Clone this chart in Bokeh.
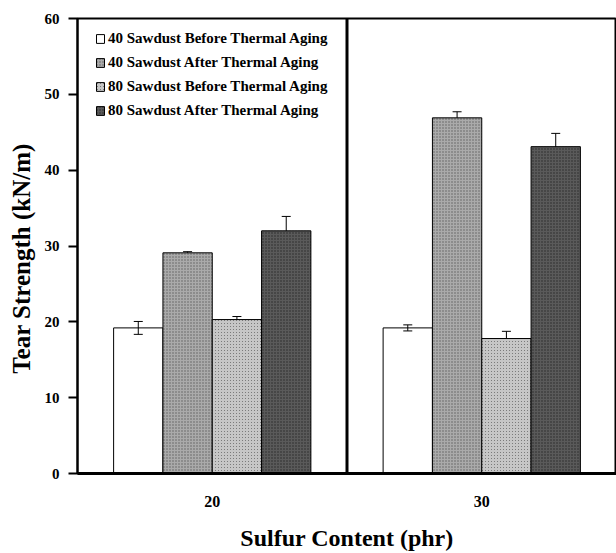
from bokeh.plotting import figure
from bokeh.models import (ColumnDataSource, Whisker, TeeHead, Span, Legend, LegendItem,
                          FixedTicker, Range1d)
from bokeh.embed import file_html
from bokeh.resources import INLINE

# ---- data ----
sulfur = [20, 30]
series_names = ["40 Sawdust Before Thermal Aging", "40 Sawdust After Thermal Aging",
                "80 Sawdust Before Thermal Aging", "80 Sawdust After Thermal Aging"]
s40_before = [19.2, 19.2]
s40_before_err = [0.85, 0.4]
s40_after = [29.1, 46.9]
s40_after_err = [0.15, 0.8]
s80_before = [20.3, 17.8]
s80_before_err = [0.4, 0.95]
s80_after = [32.0, 43.1]
s80_after_err = [1.9, 1.75]
y_ticks = [0, 10, 20, 30, 40, 50, 60]

values = [s40_before, s40_after, s80_before, s80_after]
errors = [s40_before_err, s40_after_err, s80_before_err, s80_after_err]

FONT = "Liberation Serif"

p = figure(width=616, height=553, output_backend="svg", toolbar_location=None,
           x_range=Range1d(15, 35), y_range=Range1d(0, 60),
           min_border_left=77, min_border_right=0, min_border_top=18, min_border_bottom=78)
p.background_fill_color = "white"
p.border_fill_color = "white"
p.grid.visible = False
p.outline_line_color = "black"
p.outline_line_width = 2

bar_w = 1.83
styles = [
    dict(fill_color="white", fill_alpha=0.0, hatch_pattern=None),
    dict(fill_color="#aaaaaa", hatch_pattern="dot", hatch_color="#5e5e5e", hatch_scale=3, hatch_weight=1),
    dict(fill_color="#c6c6c6", hatch_pattern="right_diagonal_dash", hatch_color="#7a7a7a", hatch_scale=3, hatch_weight=1),
    dict(fill_color="#5a5a5a", hatch_pattern="dot", hatch_color="#262626", hatch_scale=3, hatch_weight=1),
]

renderers = []
for i, (vals, errs) in enumerate(zip(values, errors)):
    off = (i - 1.5) * bar_w
    xs = [c + off for c in sulfur]
    src = ColumnDataSource(dict(x=xs, top=vals,
                                lower=[v - e for v, e in zip(vals, errs)],
                                upper=[v + e for v, e in zip(vals, errs)]))
    w = Whisker(source=src, base="x", lower="lower", upper="upper",
                line_color="black", line_width=1,
                upper_head=TeeHead(size=9, line_color="black", line_width=1),
                lower_head=TeeHead(size=9, line_color="black", line_width=1))
    p.add_layout(w)
    st = styles[i]
    kw = dict(x="x", top="top", bottom=0, width=bar_w, source=src,
              line_color="black", line_width=1, fill_color=st["fill_color"])
    if st.get("fill_alpha") is not None:
        kw["fill_alpha"] = st["fill_alpha"]
    if st.get("hatch_pattern"):
        kw.update(hatch_pattern=st["hatch_pattern"], hatch_color=st["hatch_color"],
                  hatch_scale=st["hatch_scale"], hatch_weight=st["hatch_weight"])
    r = p.vbar(**kw)
    renderers.append(r)

# divider between groups
p.add_layout(Span(location=25, dimension="height", line_color="black", line_width=3))

# axes
for ax in (p.xaxis, p.yaxis):
    ax.axis_line_color = "black"
    ax.major_tick_line_color = "black"
    ax.axis_label_text_color = "black"
    ax.major_label_text_color = "black"
    ax.minor_tick_line_color = None

p.yaxis.ticker = FixedTicker(ticks=y_ticks)
p.yaxis.major_tick_out = 9
p.yaxis.major_tick_in = 0
p.yaxis.major_tick_line_width = 2
p.yaxis.axis_line_width = 2
p.yaxis.axis_label = "Tear Strength (kN/m)\u00a0\u00a0\u00a0\u00a0"
p.yaxis.axis_label_text_font = FONT
p.yaxis.axis_label_text_font_style = "bold"
p.yaxis.axis_label_text_font_size = "25px"
p.yaxis.axis_label_standoff = 7
p.yaxis.major_label_text_font = FONT
p.yaxis.major_label_text_font_style = "bold"
p.yaxis.major_label_text_font_size = "15px"
p.yaxis.major_label_standoff = 9

p.xaxis.ticker = FixedTicker(ticks=sulfur)
p.xaxis.major_tick_out = 0
p.xaxis.major_tick_in = 0
p.xaxis.axis_line_width = 3
p.xaxis.axis_label = "Sulfur Content (phr)"
p.xaxis.axis_label_text_font = FONT
p.xaxis.axis_label_text_font_style = "bold"
p.xaxis.axis_label_text_font_size = "24px"
p.xaxis.axis_label_standoff = 15
p.xaxis.major_label_text_font = FONT
p.xaxis.major_label_text_font_style = "bold"
p.xaxis.major_label_text_font_size = "16px"
p.xaxis.major_label_standoff = 22

legend = Legend(items=[LegendItem(label=n, renderers=[r]) for n, r in zip(series_names, renderers)],
                location=(18, 354), padding=0, margin=0, spacing=7,
                glyph_width=10, glyph_height=11, label_height=16, label_standoff=3,
                border_line_color=None, background_fill_alpha=0,
                label_text_font=FONT, label_text_font_style="bold", label_text_font_size="15px",
                label_text_color="black")
p.add_layout(legend)

open("out.html", "w").write(file_html(p, INLINE))
